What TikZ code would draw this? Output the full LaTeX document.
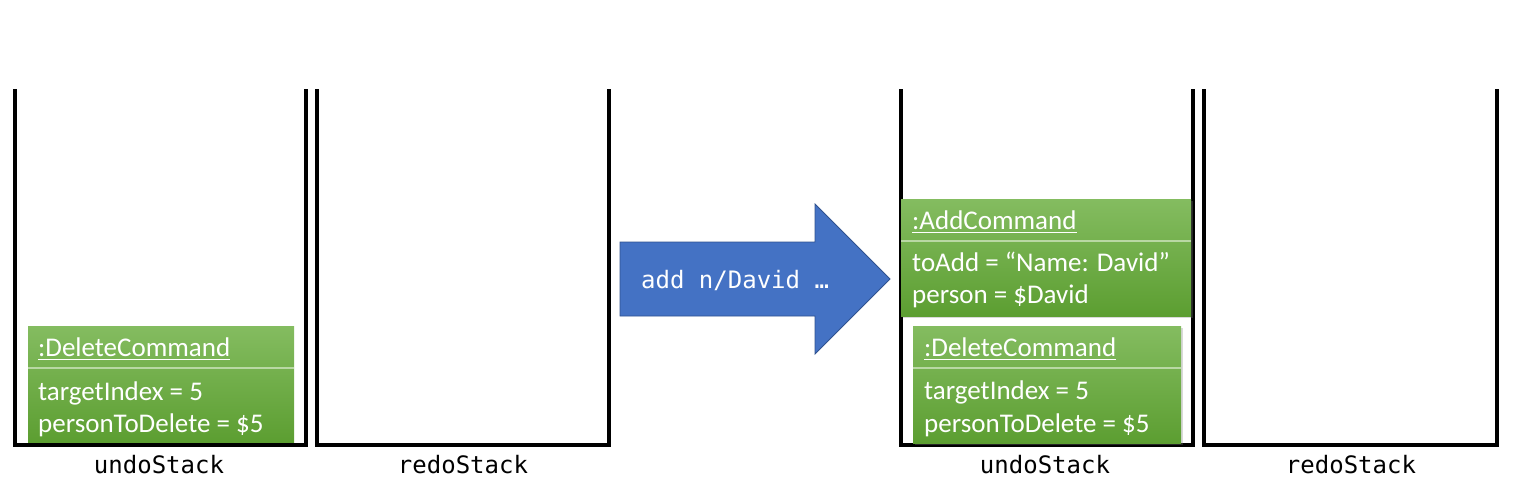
\documentclass[tikz,border=0pt]{standalone}
\usepackage{fontspec}
\setmainfont{Carlito}
\newfontfamily\monof{DejaVu Sans Mono}
\usetikzlibrary{shadows}
\definecolor{gtop}{HTML}{84BC60}
\definecolor{gbot}{HTML}{5C9E31}
\definecolor{divc}{HTML}{B9D8A4}
\definecolor{arrowblue}{HTML}{4472C4}
\definecolor{arrowedge}{HTML}{2F528F}
\tikzset{
  stackline/.style={line width=4pt, black, line cap=rect},
  stacklabel/.style={font=\monof\fontsize{24}{28}\selectfont, anchor=base, inner sep=0pt},
  cmdbox/.style={top color=gtop, bottom color=gbot, draw=none, inner sep=0pt, anchor=north west},
  shadowbox/.style={cmdbox, drop shadow={opacity=0.3, shadow xshift=1.5pt, shadow yshift=-1.5pt}},
  cmdtext/.style={font=\fontsize{27}{31}\selectfont, text=white, anchor=base west, inner sep=0pt},
  divline/.style={divc, line width=1.2pt},
  uline/.style={white, line width=1.5pt},
  arrowtext/.style={font=\monof\fontsize{24}{28}\selectfont, text=white, anchor=base west, inner sep=0pt},
}
\begin{document}
\begin{tikzpicture}[x=1pt,y=-1pt]
\useasboundingbox (0,0) rectangle (1516,496);
% stacks
\draw[stackline] (14.5,91) -- (14.5,445) -- (306,445) -- (306,91);
\draw[stackline] (317,91) -- (317,445) -- (609,445) -- (609,91);
\draw[stackline] (901,91) -- (901,445) -- (1193,445) -- (1193,91);
\draw[stackline] (1204,91) -- (1204,445) -- (1497,445) -- (1497,91);
\node[stacklabel] (l1) at (159,473) {undoStack};
\node[stacklabel] (l2) at (463,473) {redoStack};
\node[stacklabel] (l3) at (1045,473) {undoStack};
\node[stacklabel] (l4) at (1351,473) {redoStack};
% left delete command
\node[cmdbox, minimum width=266pt, minimum height=116pt] (del1) at (28,326) {};
\draw[divline] (28,368) -- (294,368);
\node[cmdtext] (del1h) at (38,356) {:DeleteCommand};
\draw[uline] ([yshift=-3.5pt]del1h.base west) -- ([yshift=-3.5pt]del1h.base east);
\node[cmdtext] (del1a) at (38,400) {targetIndex = 5};
\node[cmdtext] (del1b) at (38,432) {personToDelete = \$5};
% arrow
\filldraw[fill=arrowblue, draw=arrowedge, line width=0.8pt]
  (620,242) -- (815,242) -- (815,204) -- (890,279) -- (815,354) -- (815,316) -- (620,316) -- cycle;
\node[arrowtext] (cmd) at (641,288) {add n/David …};
% right delete command
\node[shadowbox, minimum width=268pt, minimum height=117pt] (del2) at (913,326) {};
\draw[divline] (913,368) -- (1181,368);
\node[cmdtext] (del2h) at (924,356) {:DeleteCommand};
\draw[uline] ([yshift=-3.5pt]del2h.base west) -- ([yshift=-3.5pt]del2h.base east);
\node[cmdtext] (del2a) at (924,399) {targetIndex = 5};
\node[cmdtext] (del2b) at (924,432) {personToDelete = \$5};
% add command
\node[shadowbox, minimum width=290pt, minimum height=117pt] (add) at (901,199) {};
\draw[divline] (901,241) -- (1191,241);
\node[cmdtext] (addh) at (912,229) {:AddCommand};
\draw[uline] ([yshift=-3.5pt]addh.base west) -- ([yshift=-3.5pt]addh.base east);
\node[cmdtext] (adda) at (912,271) {toAdd = “Name: David”};
\node[cmdtext] (addb) at (912,303) {person = \$David};
\end{tikzpicture}
\end{document}
